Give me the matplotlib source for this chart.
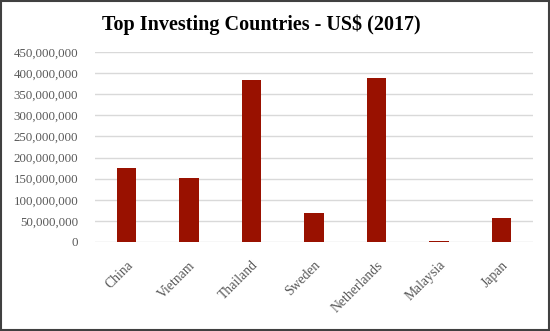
import matplotlib
matplotlib.use("Agg")
import matplotlib.pyplot as plt
from matplotlib.ticker import FuncFormatter, MultipleLocator
from matplotlib.patches import Rectangle

countries = ["China", "Vietnam", "Thailand", "Sweden", "Netherlands", "Malaysia", "Japan"]
investment_usd = [175_000_000, 151_000_000, 384_000_000, 69_000_000, 389_000_000, 3_000_000, 58_000_000]
title = "Top Investing Countries - US$ (2017)"

bar_color = "#991100"
text_grey = "#595959"
serif = ["Liberation Serif", "DejaVu Serif"]

fig = plt.figure(figsize=(5.5, 3.31), dpi=100)
ax = fig.add_axes([95 / 550, 1 - 242 / 331, 438 / 550, 190 / 331])

x = range(len(countries))
ax.bar(x, investment_usd, width=0.31, color=bar_color, zorder=3)

ax.set_xlim(-0.5, len(countries) - 0.5)
ax.set_ylim(0, 450_000_000)
ax.yaxis.set_major_locator(MultipleLocator(50_000_000))
ax.yaxis.set_major_formatter(FuncFormatter(lambda v, _: f"{int(v):,}"))
ax.grid(axis="y", color="#d9d9d9", linewidth=1, zorder=0)
for s in ax.spines.values():
    s.set_visible(False)
ax.tick_params(length=0)
ax.tick_params(axis="y", pad=12, labelsize=9.3, labelcolor=text_grey)
ax.tick_params(axis="x", pad=12)
ax.set_xticks(list(x))
ax.set_xticklabels(countries, rotation=45, ha="right", rotation_mode="anchor",
                   fontsize=9.8, color=text_grey, family=serif)
for lbl in ax.get_yticklabels():
    lbl.set_family(serif)

fig.text(261 / 550, 1 - 25 / 331, title, ha="center", va="center",
         fontsize=14.5, fontweight="bold", family=serif, color="black")

fig.patches.append(Rectangle((0.002, 0.003), 0.996, 0.994, transform=fig.transFigure,
                             fill=False, edgecolor="#404040", linewidth=1.5))

fig.savefig("out.png", dpi=100)
